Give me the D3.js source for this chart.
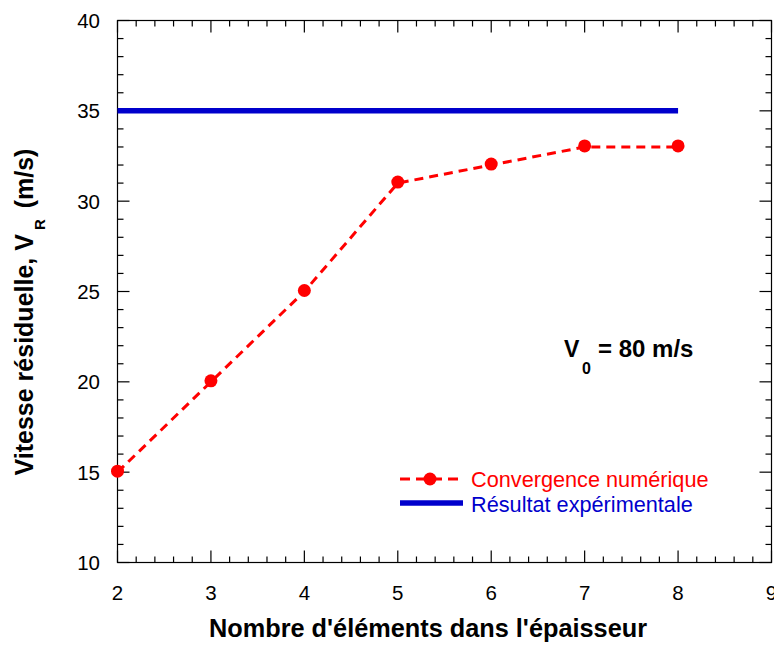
<!DOCTYPE html>
<html><head><meta charset="utf-8">
<script src="https://cdn.jsdelivr.net/npm/d3@7"></script>
<style>body{margin:0;background:#fff}svg{display:block}text{font-family:Arial,"Liberation Sans",sans-serif}</style>
</head><body>
<script>
const elements = [2, 3, 4, 5, 6, 7, 8];
const vitesse = [15, 20, 25, 31, 32, 33, 33];
const experimental = 35;
const expRange = [2, 8];
const xTicks = [2, 3, 4, 5, 6, 7, 8, 9];
const yTicks = [10, 15, 20, 25, 30, 35, 40];

const W = 774, H = 648;
const m = {l: 117.5, t: 20.5, r: 771.5, b: 562.5};
const svg = d3.select("body").append("svg").attr("width", W).attr("height", H);
const x = d3.scaleLinear().domain([2, 9]).range([m.l, m.r]);
const y = d3.scaleLinear().domain([10, 40]).range([m.b, m.t]);

// frame
svg.append("rect").attr("x", m.l).attr("y", m.t).attr("width", m.r - m.l).attr("height", m.b - m.t)
  .attr("fill", "none").attr("stroke", "#000").attr("stroke-width", 1.2);

const xMinor = d3.range(2, 9.0001, 0.2);
const yMinor = d3.range(10, 40.0001, 1);
const isMajor = (v, step) => Math.abs(v / step - Math.round(v / step)) < 1e-6;
const ax = svg.append("g").attr("stroke", "#000").attr("stroke-width", 1.2);
xMinor.forEach(v => {
  const L = isMajor(v, 1) ? 12 : 6;
  ax.append("line").attr("x1", x(v)).attr("x2", x(v)).attr("y1", m.b).attr("y2", m.b - L);
  ax.append("line").attr("x1", x(v)).attr("x2", x(v)).attr("y1", m.t).attr("y2", m.t + L);
});
yMinor.forEach(v => {
  const L = isMajor(v, 5) ? 12 : 6;
  ax.append("line").attr("y1", y(v)).attr("y2", y(v)).attr("x1", m.l).attr("x2", m.l + L);
  ax.append("line").attr("y1", y(v)).attr("y2", y(v)).attr("x1", m.r).attr("x2", m.r - L);
});

// tick labels
svg.append("g").selectAll("text").data(xTicks).join("text")
  .attr("x", d => x(d)).attr("y", 600).attr("text-anchor", "middle")
  .attr("font-size", 20.5).text(d => d);
svg.append("g").selectAll("text").data(yTicks).join("text")
  .attr("x", 100).attr("y", d => y(d) + 7.5).attr("text-anchor", "end")
  .attr("font-size", 20.5).text(d => d);

// experimental line
svg.append("line").attr("x1", x(expRange[0])).attr("x2", x(expRange[1]))
  .attr("y1", y(experimental)).attr("y2", y(experimental))
  .attr("stroke", "#0000cc").attr("stroke-width", 5.5);

// numerical series
const data = elements.map((e, i) => [e, vitesse[i]]);
svg.append("path").datum(data)
  .attr("d", d3.line().x(d => x(d[0])).y(d => y(d[1])))
  .attr("fill", "none").attr("stroke", "#ff0000").attr("stroke-width", 3)
  .attr("stroke-dasharray", "9,6");
svg.append("g").selectAll("circle").data(data).join("circle")
  .attr("cx", d => x(d[0])).attr("cy", d => y(d[1]) - 1).attr("r", 6.5).attr("fill", "#ff0000");

// legend
const lg = svg.append("g");
lg.append("line").attr("x1", 400).attr("x2", 463).attr("y1", 479).attr("y2", 479)
  .attr("stroke", "#ff0000").attr("stroke-width", 3).attr("stroke-dasharray", "10,6");
lg.append("circle").attr("cx", 430).attr("cy", 479).attr("r", 6.5).attr("fill", "#ff0000");
lg.append("text").attr("x", 471).attr("y", 487).attr("font-size", 21.7).attr("fill", "#ff0000").text("Convergence numérique");
lg.append("line").attr("x1", 400).attr("x2", 463).attr("y1", 503).attr("y2", 503)
  .attr("stroke", "#0000cc").attr("stroke-width", 5.5);
lg.append("text").attr("x", 471).attr("y", 512).attr("font-size", 21.7).attr("fill", "#0000cc").text("Résultat expérimentale");

// annotation
const an = svg.append("text").attr("x", 564).attr("y", 357).attr("font-size", 23).attr("font-weight", "bold");
an.append("tspan").text("V");
an.append("tspan").attr("font-size", 16).attr("x", 582).attr("dy", 17).text("0");
an.append("tspan").attr("x", 598).attr("dy", -17).attr("font-size", 24).text("= 80 m/s");

// axis titles
svg.append("text").attr("x", 428).attr("y", 637).attr("text-anchor", "middle")
  .attr("font-size", 25.3).attr("font-weight", "bold").text("Nombre d'éléments dans l'épaisseur");
const yt = svg.append("text").attr("transform", "translate(33,312) rotate(-90)")
  .attr("text-anchor", "middle").attr("font-size", 25).attr("font-weight", "bold");
yt.append("tspan").text("Vitesse résiduelle, V");
yt.append("tspan").attr("font-size", 15).attr("dy", 12).attr("dx", 4).text("R");
yt.append("tspan").attr("dy", -12).attr("dx", 4).text(" (m/s)");
</script>
</body></html>
